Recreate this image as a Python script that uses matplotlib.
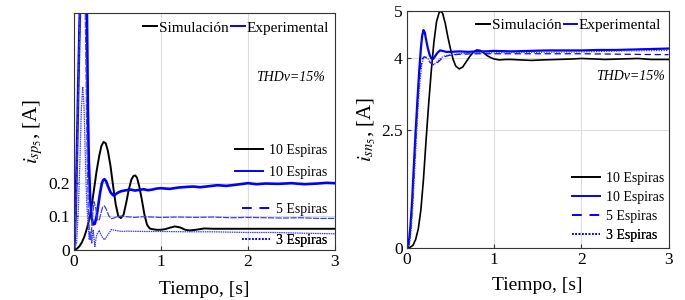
import matplotlib
matplotlib.use('Agg')
import matplotlib.pyplot as plt
from matplotlib.lines import Line2D

plt.rcParams['font.family'] = ['Liberation Serif', 'DejaVu Serif']
plt.rcParams['mathtext.fontset'] = 'stix'

# ---- left panel: i_sp5 ----
t_sp_sim = [0, 0.03, 0.06, 0.09, 0.12, 0.15, 0.175, 0.2, 0.23, 0.26, 0.29, 0.315, 0.34, 0.365,
            0.39, 0.42, 0.45, 0.48, 0.51, 0.54, 0.57, 0.6, 0.63, 0.66, 0.685, 0.705, 0.725, 0.75,
            0.78, 0.81, 0.84, 0.87, 0.9, 0.95, 1.0, 1.05, 1.1, 1.16, 1.22, 1.28, 1.33, 1.4, 1.5,
            1.6, 1.8, 2.0, 2.5, 3.0]
sp_sim = [0, 0.003, 0.01, 0.022, 0.04, 0.065, 0.09, 0.125, 0.18, 0.235, 0.28, 0.31, 0.322, 0.318,
          0.295, 0.25, 0.19, 0.135, 0.1, 0.095, 0.105, 0.14, 0.18, 0.21, 0.221, 0.222, 0.215, 0.19,
          0.15, 0.105, 0.075, 0.064, 0.062, 0.06, 0.06, 0.062, 0.066, 0.07, 0.067, 0.06, 0.058,
          0.06, 0.064, 0.063, 0.063, 0.063, 0.063, 0.063]

t_sp_10 = [0, 0.01, 0.02, 0.035, 0.05, 0.065, 0.08, 0.1, 0.12, 0.14, 0.15, 0.16, 0.17, 0.185, 0.2,
           0.22, 0.24, 0.26, 0.28, 0.3, 0.32, 0.335, 0.35, 0.37, 0.39, 0.42, 0.45, 0.47, 0.5, 0.53,
           0.56, 0.6, 0.65, 0.7, 0.75, 0.8, 0.85, 0.9, 0.95, 1.0, 1.1, 1.2, 1.3, 1.37, 1.45, 1.55,
           1.65, 1.75, 1.85, 2.0, 2.1, 2.2, 2.35, 2.5, 2.65, 2.8, 2.9, 3.0]
sp_10 = [0, 0.04, 0.12, 0.3, 0.5, 0.68, 0.82, 0.92, 0.95, 0.85, 0.68, 0.42, 0.27, 0.16, 0.1,
         0.076, 0.078, 0.1, 0.135, 0.17, 0.198, 0.208, 0.211, 0.205, 0.19, 0.172, 0.163, 0.164,
         0.17, 0.174, 0.176, 0.178, 0.18, 0.177, 0.179, 0.181, 0.178, 0.18, 0.183, 0.184, 0.182,
         0.186, 0.188, 0.189, 0.187, 0.19, 0.193, 0.191, 0.194, 0.199, 0.196, 0.198, 0.197, 0.199,
         0.196, 0.198, 0.2, 0.199]

t_sp_5 = [0, 0.015, 0.03, 0.045, 0.06, 0.075, 0.09, 0.105, 0.12, 0.13, 0.14, 0.15, 0.165, 0.18,
          0.195, 0.21, 0.23, 0.25, 0.27, 0.29, 0.31, 0.33, 0.35, 0.37, 0.4, 0.43, 0.46, 0.5, 0.55,
          0.6, 0.7, 0.8, 0.9, 1.0, 1.2, 1.4, 1.6, 1.8, 2.0, 2.2, 2.4, 2.6, 2.8, 3.0]
sp_5 = [0, 0.06, 0.2, 0.4, 0.6, 0.78, 0.9, 0.92, 0.82, 0.7, 0.5, 0.3, 0.12, 0.04, 0.03, 0.09,
        0.144, 0.125, 0.09, 0.088, 0.11, 0.128, 0.131, 0.122, 0.102, 0.093, 0.095, 0.1, 0.101,
        0.099, 0.097, 0.099, 0.098, 0.097, 0.098, 0.097, 0.098, 0.096, 0.097, 0.096, 0.095, 0.096,
        0.094, 0.094]

t_sp_3 = [0, 0.03, 0.05, 0.07, 0.085, 0.1, 0.115, 0.13, 0.145, 0.16, 0.175, 0.19, 0.205, 0.22,
          0.24, 0.26, 0.29, 0.32, 0.35, 0.39, 0.43, 0.48, 0.55, 0.6, 0.8, 1.0, 1.3, 1.6, 2.0, 2.3,
          2.6, 3.0]
sp_3 = [0, 0.02, 0.12, 0.28, 0.42, 0.487, 0.43, 0.28, 0.15, 0.08, 0.03, 0.055, 0.02, 0.06, 0.01,
        0.045, 0.058, 0.04, 0.03, 0.045, 0.061, 0.058, 0.055, 0.056, 0.055, 0.055, 0.054, 0.054,
        0.052, 0.052, 0.05, 0.048]

# ---- right panel: i_sn5 ----
t_sn_sim = [0, 0.04, 0.07, 0.1, 0.13, 0.16, 0.19, 0.22, 0.25, 0.28, 0.31, 0.34, 0.37, 0.39, 0.41,
            0.44, 0.47, 0.5, 0.53, 0.56, 0.6, 0.64, 0.68, 0.72, 0.76, 0.8, 0.84, 0.88, 0.92, 0.96,
            1.0, 1.06, 1.13, 1.2, 1.3, 1.43, 1.55, 1.73, 1.9, 2.0, 2.15, 2.27, 2.45, 2.65, 2.8, 3.0]
sn_sim = [0, 0.02, 0.06, 0.18, 0.4, 0.8, 1.45, 2.28, 3.05, 3.75, 4.35, 4.78, 4.97, 5.0, 4.95,
          4.74, 4.45, 4.2, 3.98, 3.84, 3.78, 3.82, 3.93, 4.04, 4.13, 4.18, 4.17, 4.12, 4.06, 4.02,
          3.99, 3.97, 3.98, 3.98, 3.97, 3.96, 3.97, 3.98, 3.99, 4.0, 3.99, 3.98, 3.99, 4.0, 3.98,
          3.98]

t_sn_10 = [0, 0.02, 0.04, 0.06, 0.08, 0.1, 0.12, 0.14, 0.16, 0.175, 0.19, 0.205, 0.22, 0.24, 0.26,
           0.28, 0.3, 0.32, 0.35, 0.38, 0.41, 0.45, 0.5, 0.6, 0.7, 0.8, 0.9, 1.0, 1.2, 1.4, 1.6,
           1.8, 2.0, 2.2, 2.4, 2.6, 2.8, 3.0]
sn_10 = [0, 0.08, 0.45, 1.0, 1.75, 2.45, 3.1, 3.7, 4.2, 4.48, 4.6, 4.55, 4.4, 4.22, 4.08, 4.0,
         3.99, 4.04, 4.12, 4.17, 4.16, 4.14, 4.14, 4.15, 4.14, 4.15, 4.15, 4.16, 4.15, 4.16, 4.17,
         4.17, 4.17, 4.18, 4.18, 4.19, 4.2, 4.21]

t_sn_5 = [0, 0.02, 0.04, 0.06, 0.08, 0.1, 0.12, 0.14, 0.16, 0.18, 0.2, 0.23, 0.26, 0.29, 0.32,
          0.36, 0.4, 0.45, 0.5, 0.6, 0.8, 1.0, 1.5, 2.0, 2.5, 3.0]
sn_5 = [0, 0.05, 0.3, 0.8, 1.5, 2.2, 2.9, 3.5, 3.85, 4.0, 4.04, 4.0, 3.93, 3.88, 3.87, 3.93, 4.0,
        4.05, 4.07, 4.09, 4.1, 4.1, 4.1, 4.1, 4.09, 4.08]

t_sn_3 = [0, 0.03, 0.05, 0.07, 0.09, 0.11, 0.13, 0.15, 0.17, 0.19, 0.21, 0.24, 0.27, 0.3, 0.33,
          0.37, 0.42, 0.5, 0.6, 0.8, 1.0, 1.5, 2.0, 2.5, 3.0]
sn_3 = [0, 0.1, 0.4, 0.95, 1.65, 2.35, 3.0, 3.5, 3.85, 4.0, 4.05, 4.0, 3.92, 3.86, 3.9, 3.98,
        4.05, 4.08, 4.1, 4.12, 4.12, 4.13, 4.14, 4.16, 4.17]

blue = '#0000ff'
light = '#3b3bff'

fig = plt.figure(figsize=(6.85, 3.0), dpi=100)
ax1 = fig.add_axes([0.108, 0.167, 0.381, 0.79])
ax2 = fig.add_axes([0.594, 0.173, 0.382, 0.79])


def style(ax, yticks, ylim):
    ax.set_xlim(0, 3)
    ax.set_ylim(*ylim)
    ax.set_xticks([0, 1, 2, 3])
    ax.set_yticks(yticks)
    ax.grid(True, color='#dddddd', linewidth=0.8)
    ax.set_axisbelow(True)
    ax.tick_params(direction='in', length=3, labelsize=12.5, pad=3, color='#333333')
    for s in ax.spines.values():
        s.set_color('#333333')
        s.set_linewidth(0.8)


# left
ax1.plot(t_sp_sim, sp_sim, color='black', lw=1.4)
ax1.plot(t_sp_10, sp_10, color=blue, lw=1.9)
ax1.plot(t_sp_5, sp_5, color=light, lw=0.9, dashes=(5, 1))
ax1.plot(t_sp_3, sp_3, color=light, lw=0.9, dashes=(1.2, 0.6))
style(ax1, [0, 0.1, 0.2], (0, 0.707))
ax1.set_yticklabels(['0', '0.1', '0.2'])
ax1.set_xlabel('Tiempo, [s]', fontsize=14, labelpad=8)
ax1.set_ylabel(r'$i_{sp_5}$, [A]', fontsize=15, labelpad=2)

# right
ax2.plot(t_sn_sim, sn_sim, color='black', lw=1.2)
ax2.plot(t_sn_10, sn_10, color=blue, lw=1.6)
ax2.plot(t_sn_5, sn_5, color=blue, lw=0.9, dashes=(5, 3))
ax2.plot(t_sn_3, sn_3, color=light, lw=0.9, dashes=(1, 1))
style(ax2, [0, 2.5, 4, 5], (0, 5))
ax2.set_yticklabels(['0', '2.5', '4', '5'])
ax2.set_xlabel('Tiempo, [s]', fontsize=14, labelpad=6)
ax2.set_ylabel(r'$i_{sn_5}$, [A]', fontsize=15, labelpad=2)

# top legends (Simulación / Experimental)
top_handles = [Line2D([], [], color='black', lw=1.4), Line2D([], [], color=blue, lw=1.4)]
for ax, xr, yc in [(ax1, 0.975, 0.937), (ax2, 0.972, 0.941)]:
    leg = ax.legend(top_handles, ['Simulación', 'Experimental'], ncol=2, frameon=False,
                    fontsize=11, loc='center right', bbox_to_anchor=(xr, yc),
                    borderpad=0, borderaxespad=0, handlelength=0.9, handletextpad=0.1,
                    columnspacing=0.15)
    ax.add_artist(leg)
    ax.text(0.83 if ax is ax1 else 0.853, 0.726, 'THDv=15%', transform=ax.transAxes,
            fontsize=10, style='italic', ha='center', va='center')

# bottom legends
entries = [(Line2D([], [], color='black', lw=1.4), '10 Espiras'),
           (Line2D([], [], color=blue, lw=1.4), '10 Espiras'),
           (Line2D([], [], color=blue, lw=1.4, dashes=(5, 4)), '5 Espiras'),
           (Line2D([], [], color=blue, lw=1.2, dashes=(1, 1)), '3 Espiras')]
left_rows = [0.418, 0.328, 0.172, 0.039]
for (h, lab), yc in zip(entries, left_rows):
    leg = ax1.legend([h], [lab], frameon=False, fontsize=10, loc='center right',
                     bbox_to_anchor=(0.969, yc), borderpad=0, borderaxespad=0,
                     handlelength=2.0, handletextpad=0.4)
    ax1.add_artist(leg)

right_rows = [0.295, 0.215, 0.135, 0.055]
for (h, lab), yc in zip(entries, right_rows):
    leg = ax2.legend([h], [lab], frameon=False, fontsize=10, loc='center left',
                     bbox_to_anchor=(0.632, yc), borderpad=0, borderaxespad=0,
                     handlelength=2.0, handletextpad=0.4)
    ax2.add_artist(leg)

fig.savefig('out.png', dpi=100)
